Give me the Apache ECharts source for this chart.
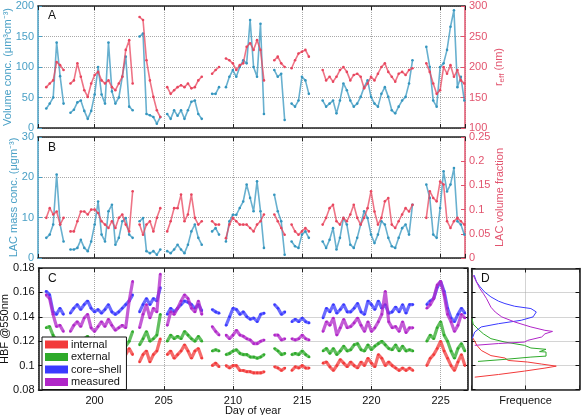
<!DOCTYPE html>
<html>
<head>
<meta charset="utf-8">
<script src="https://cdn.jsdelivr.net/npm/echarts@6/dist/echarts.min.js"></script>
<style>html,body{margin:0;padding:0;background:#fff}#c{width:583px;height:415px}</style>
</head>
<body>
<div id="c"></div>
<script>
// ---- data ----
const days = [196.5,196.75,197,197.25,197.5,197.75,198,198.25,198.5,198.75,
199,199.25,199.5,199.75,200,200.25,200.5,200.75,201,201.25,
201.5,201.75,202,202.25,202.5,202.75,203,203.25,203.5,203.75,
204,204.25,204.5,204.75,205,205.25,205.5,205.75,206,206.25,
206.5,206.75,207,207.25,207.5,207.75,208,208.25,208.5,208.75,
209,209.25,209.5,209.75,210,210.25,210.5,210.75,211,211.25,
211.5,211.75,212,212.25,212.5,212.75,213,213.25,213.5,213.75,
214,214.25,214.5,214.75,215,215.25,215.5,215.75,216,216.25,
216.5,216.75,217,217.25,217.5,217.75,218,218.25,218.5,218.75,
219,219.25,219.5,219.75,220,220.25,220.5,220.75,221,221.25,
221.5,221.75,222,222.25,222.5,222.75,223,223.25,223.5,223.75,
224,224.25,224.5,224.75,225,225.25,225.5,225.75,226,226.25,
226.5,226.75];
const n = null;
// Panel A
const volumeConc = [32,40,50,140,85,40,n,25,30,42,
45,28,15,28,55,100,55,40,140,60,
40,50,84,117,35,29,n,150,155,23,
21,18,7,18,n,23,15,29,20,29,
15,29,43,45,23,15,n,n,56,56,
67,n,67,84,95,84,100,111,106,177,
100,84,171,23,n,n,95,84,89,13,
n,40,35,45,84,78,56,n,n,n,
45,35,40,45,24,45,73,62,45,35,
40,51,67,78,51,40,35,56,67,51,
29,24,35,45,51,73,111,n,n,n,
133,100,45,35,100,106,128,166,193,67,
84,45];
const rEff = [167,173,178,208,203,195,n,173,178,206,
184,162,151,173,187,192,178,173,178,167,
162,173,184,228,244,173,n,282,277,211,
178,151,129,118,n,167,156,162,167,170,
167,173,165,167,178,184,n,n,189,195,
200,n,214,211,206,195,203,206,233,239,
228,244,228,178,n,n,211,217,206,200,
n,198,211,222,225,228,217,n,n,n,
195,178,184,176,184,195,200,192,178,187,
189,184,165,173,184,178,189,200,206,192,
184,176,189,192,187,195,198,n,n,n,
206,192,173,156,162,200,189,203,184,195,
178,173];
// Panel B
const lacMass = [5,5.8,8.3,20.7,8.3,4.1,n,2.1,2.1,2.5,
4.5,2.5,1.7,4.1,8.3,14,5.8,4.1,11.6,13.2,
3.3,5,9.1,9.9,5.8,5,n,9.1,9.9,1.7,
1.2,1.7,0.8,2.1,n,1.7,1.2,2.1,3.3,2.1,
1.2,3.3,6.6,8.3,5,3.3,n,n,6.6,7.4,
5.8,n,4.1,9.1,10.7,10.7,12.4,14,18.2,14.9,
11.6,19,11.6,2.5,n,n,15.7,11.6,9.1,0.8,
n,4.1,2.9,2.5,5.8,6.6,5,n,n,n,
4.1,2.5,4.5,7.4,2.1,5,9.9,8.3,3.3,2.5,
5,8.3,11.6,9.9,5.8,3.7,5.8,9.1,8.3,5,
2.9,2.5,5,7.4,8.3,5.8,13.2,n,n,n,
18.2,14.9,5.8,5,12.4,21.5,16.5,18.2,22.3,9.1,
8.3,5.8];
const lacFraction = [0.083,0.103,0.09,0.096,0.069,0.083,n,0.055,0.055,0.076,
0.096,0.096,0.09,0.1,0.1,0.093,0.076,0.069,0.062,0.076,
0.062,0.083,0.09,0.069,0.055,0.138,n,0.069,0.048,0.069,
0.076,0.055,0.083,0.103,n,0.055,0.076,0.103,0.103,0.131,
0.076,0.09,0.131,0.083,0.069,0.076,n,n,0.076,0.069,
0.069,n,0.041,0.069,0.083,0.076,0.069,0.069,0.069,0.062,
0.055,0.069,0.076,0.09,n,n,0.09,0.076,0.062,0.048,
n,0.069,0.055,0.048,0.055,0.062,0.055,n,n,n,
0.069,0.083,0.103,0.11,0.076,0.069,0.083,0.076,0.09,0.11,
0.083,0.069,0.083,0.103,0.138,0.096,0.069,0.083,0.117,0.124,
0.069,0.062,0.076,0.09,0.103,0.096,0.11,n,n,n,
0.083,0.138,0.124,0.117,0.158,0.152,0.076,0.062,0.076,0.083,
0.076,0.069];
// Panel C (HBF @550nm)
const hbfInternal = [0.118,0.115,0.112,0.11,0.108,0.106,n,0.105,0.106,0.108,
0.106,0.109,0.11,0.106,0.105,0.107,0.109,0.107,0.109,0.105,
0.104,0.103,0.106,0.109,0.114,0.109,n,0.103,0.109,0.112,
0.103,0.109,0.112,0.122,n,0.109,0.112,0.106,0.109,0.112,
0.117,0.112,0.106,0.112,0.114,0.106,n,n,0.1,0.102,
0.099,n,0.1,0.098,0.1,0.1,0.096,0.096,0.095,0.095,
0.094,0.094,0.094,0.095,n,n,0.099,0.098,0.096,0.098,
n,0.096,0.099,0.098,0.1,0.098,0.098,n,n,n,
0.102,0.103,0.099,0.096,0.1,0.105,0.102,0.099,0.103,0.1,
0.098,0.103,0.1,0.106,0.102,0.099,0.109,0.106,0.1,0.103,
0.1,0.098,0.096,0.098,0.096,0.098,0.096,n,n,n,
0.1,0.106,0.109,0.114,0.12,0.112,0.106,0.1,0.096,0.103,
0.109,0.1];
const hbfExternal = [0.131,0.132,0.125,0.12,0.118,0.116,n,0.117,0.118,0.12,
0.118,0.122,0.124,0.118,0.117,0.12,0.122,0.12,0.122,0.118,
0.117,0.116,0.113,0.116,0.12,0.128,n,0.117,0.122,0.128,
0.12,0.122,0.125,0.142,n,0.12,0.125,0.122,0.124,0.122,
0.128,0.125,0.122,0.12,0.124,0.12,n,n,0.112,0.113,
0.112,n,0.109,0.11,0.112,0.113,0.11,0.109,0.109,0.107,
0.107,0.106,0.107,0.109,n,n,0.114,0.112,0.109,0.11,
n,0.109,0.11,0.109,0.112,0.109,0.107,n,n,n,
0.112,0.114,0.11,0.114,0.109,0.112,0.116,0.112,0.113,0.117,
0.118,0.113,0.112,0.117,0.113,0.116,0.118,0.12,0.117,0.114,
0.113,0.117,0.112,0.116,0.112,0.113,0.112,n,n,n,
0.12,0.125,0.122,0.131,0.136,0.125,0.12,0.112,0.106,0.114,
0.118,0.112];
const hbfCoreShell = [0.161,0.158,0.144,0.142,0.147,0.142,n,0.143,0.147,0.15,
0.146,0.15,0.153,0.147,0.144,0.146,0.143,0.146,0.15,0.144,
0.142,0.144,0.147,0.15,0.153,0.158,n,0.144,0.15,0.155,
0.15,0.155,0.153,0.164,n,0.142,0.147,0.144,0.147,0.15,
0.153,0.152,0.15,0.147,0.15,0.145,n,n,0.146,0.144,
0.143,n,0.133,0.14,0.147,0.146,0.142,0.144,0.14,0.138,
0.139,0.136,0.142,0.143,n,n,0.15,0.147,0.142,0.144,
n,0.136,0.138,0.136,0.139,0.136,0.135,n,n,n,
0.139,0.147,0.144,0.15,0.143,0.146,0.15,0.144,0.144,0.147,
0.151,0.144,0.142,0.153,0.15,0.146,0.153,0.147,0.15,0.143,
0.144,0.148,0.144,0.15,0.143,0.15,0.15,n,n,n,
0.15,0.153,0.155,0.164,0.169,0.161,0.147,0.139,0.136,0.142,
0.147,0.143];
const hbfMeasured = [0.158,0.155,0.142,0.132,0.133,0.128,n,0.128,0.133,0.136,
0.132,0.139,0.142,0.131,0.128,0.132,0.136,0.132,0.138,0.133,
0.129,0.131,0.133,0.131,0.153,0.169,n,0.131,0.142,0.15,
0.139,0.147,0.144,0.175,n,0.133,0.144,0.142,0.147,0.153,
0.158,0.155,0.147,0.144,0.153,0.142,n,n,0.132,0.128,
0.125,n,0.125,0.122,0.125,0.129,0.125,0.124,0.122,0.121,
0.118,0.118,0.12,0.121,n,n,0.125,0.125,0.121,0.122,
n,0.122,0.121,0.122,0.125,0.122,0.121,n,n,n,
0.128,0.136,0.133,0.139,0.125,0.131,0.138,0.131,0.132,0.135,
0.139,0.133,0.128,0.136,0.128,0.131,0.136,0.142,0.161,0.136,
0.131,0.132,0.128,0.136,0.127,0.131,0.131,n,n,n,
0.147,0.15,0.155,0.166,0.169,0.158,0.142,0.136,0.128,0.133,
0.142,0.139];
// Panel D: frequency distributions, [frequency, HBF]
const freqInternal = [[0.03,0.0902],[0.25,0.0924],[0.49,0.0952],[0.68,0.0977],[0.785,0.0993],[0.65,0.101],[0.52,0.1027],[0.34,0.104],[0.31,0.106],[0.18,0.108],[0.09,0.1123],[0.05,0.1165],[0.025,0.1206],[0.01,0.123]];
const freqExternal = [[0.06,0.1032],[0.31,0.1049],[0.55,0.1068],[0.69,0.1076],[0.69,0.111],[0.63,0.1113],[0.69,0.1132],[0.55,0.1143],[0.49,0.1165],[0.31,0.1192],[0.18,0.122],[0.11,0.126],[0.06,0.13],[0.015,0.134],[0.006,0.1386]];
const freqCoreShell = [[0.006,0.122],[0.03,0.1275],[0.09,0.1317],[0.25,0.1344],[0.46,0.1372],[0.57,0.14],[0.6,0.1441],[0.55,0.1469],[0.4,0.1488],[0.31,0.151],[0.25,0.153],[0.18,0.1565],[0.12,0.1607],[0.08,0.1648],[0.046,0.169],[0.025,0.1745]];
const freqMeasured = [[0.03,0.1165],[0.25,0.118],[0.49,0.1192],[0.52,0.1206],[0.65,0.1234],[0.68,0.126],[0.75,0.128],[0.68,0.1289],[0.55,0.1317],[0.4,0.1358],[0.28,0.14],[0.22,0.144],[0.18,0.148],[0.14,0.155],[0.11,0.1593],[0.077,0.1634],[0.046,0.169],[0.015,0.1745]];
// tick / label texts
const seriesNames = ['internal','external','core\u2212shell','measured'];

// ---- styling ----
const FONT = 'Liberation Sans, Arial, Helvetica, sans-serif';
const BLUE_T = '#4aa0c6', RED_T = '#e2546e';
const BLUE_S = '#3596bf', RED_S = '#e8465e';
const C_INT = '#f23a3a', C_EXT = '#2eaa2a', C_CS = '#3a3aff', C_MEAS = '#b026c8';
const GRIDC = '#a8a8a8';

const pts = v => days.map((d, i) => [d, v[i] == null ? '-' : v[i]]);

function xAx(grid, min, max, opts) {
  return Object.assign({
    type: 'value', gridIndex: grid, min: min, max: max, position: 'bottom',
    axisLine: {show: true, onZero: false, lineStyle: {color: '#222', width: 1.5}},
    axisTick: {show: true, inside: true, length: 4, lineStyle: {color: '#222'}},
    axisLabel: {show: false, showMinLabel: false, showMaxLabel: false, color: '#111', fontSize: 11, fontFamily: FONT, margin: 4},
    splitLine: {show: false}, nameMoveOverlap: false
  }, opts || {});
}
function yAx(grid, min, max, interval, color, opts) {
  return Object.assign({
    type: 'value', gridIndex: grid, min: min, max: max, interval: interval, position: 'left',
    axisLine: {show: true, onZero: false, lineStyle: {color: color, width: 1.5}},
    axisTick: {show: true, inside: true, length: 4, lineStyle: {color: color}},
    axisLabel: {show: true, color: color, fontSize: 11, fontFamily: FONT, margin: 4, hideOverlap: false},
    splitLine: {show: false},
    nameLocation: 'middle', nameMoveOverlap: false,
    nameTextStyle: {color: color, fontSize: 11, fontFamily: FONT}
  }, opts || {});
}
const dotted = {show: true, lineStyle: {type: 'dotted', color: GRIDC, width: 1}};

const xA = [195.9, 226.8], xC = [195.95, 226.94];

function scat(name, x, y, data, color, z, w) {
  return {
    name: name, type: 'line', xAxisIndex: x, yAxisIndex: y, data: pts(data),
    connectNulls: false, showSymbol: true, symbol: 'circle', symbolSize: 2.6,
    lineStyle: {color: color, width: w, opacity: 0.75}, itemStyle: {color: color},
    silent: true, z: z || 2, animation: false
  };
}
function hist(name, data, color) {
  return {
    name: name, type: 'line', xAxisIndex: 6, yAxisIndex: 6, data: data,
    showSymbol: false, lineStyle: {color: color, width: 1}, itemStyle: {color: color}, silent: true, z: 3
  };
}
const G = {containLabel: false, outerBoundsMode: 'none'};

const option = {
  animation: false,
  textStyle: {fontFamily: FONT},
  grid: [
    Object.assign({left: 38, top: 6, right: 118, height: 122}, G),
    Object.assign({left: 38, top: 137, right: 118, height: 121}, G),
    Object.assign({left: 38.5, top: 268, right: 115.5, height: 122}, G),
    Object.assign({left: 471.5, top: 268.5, width: 108, height: 121}, G)
  ],
  title: [
    {text: 'A', left: 48, top: 10, padding: 0, textStyle: {fontSize: 12, fontWeight: 'normal', color: '#111'}},
    {text: 'B', left: 48, top: 142, padding: 0, textStyle: {fontSize: 12, fontWeight: 'normal', color: '#111'}},
    {text: 'C', left: 48, top: 273, padding: 0, textStyle: {fontSize: 12, fontWeight: 'normal', color: '#111'}},
    {text: 'D', left: 481, top: 273, padding: 0, textStyle: {fontSize: 12, fontWeight: 'normal', color: '#111'}}
  ],
  legend: {
    data: seriesNames.map(s => ({name: s, icon: 'rect'})),
    orient: 'vertical', left: 42, top: 337,
    itemWidth: 23, itemHeight: 8, itemGap: 1.5,
    padding: [2, 5, 2, 3],
    borderColor: '#111', borderWidth: 1, backgroundColor: '#fff',
    textStyle: {fontSize: 11, lineHeight: 10, color: '#111', fontFamily: FONT, padding: [0, 0, 0, -2]},
    selectedMode: false, z: 10
  },
  xAxis: [
    xAx(0, xA[0], xA[1], {splitLine: dotted}),
    xAx(0, xA[0], xA[1], {position: 'top'}),
    xAx(1, xA[0], xA[1], {splitLine: dotted}),
    xAx(1, xA[0], xA[1], {position: 'top'}),
    xAx(2, xC[0], xC[1], {splitLine: dotted, name: 'Day of year', nameLocation: 'middle', nameGap: 15,
      nameTextStyle: {color: '#111', fontSize: 11, fontFamily: FONT},
      axisLabel: {show: true, showMinLabel: false, showMaxLabel: false, color: '#111', fontSize: 11, fontFamily: FONT, margin: 5}}),
    xAx(2, xC[0], xC[1], {position: 'top'}),
    xAx(3, 0, 1, {interval: 0.5, splitLine: dotted, name: 'Frequence', nameLocation: 'middle', nameGap: 6,
      nameTextStyle: {color: '#111', fontSize: 11, fontFamily: FONT}}),
    xAx(3, 0, 1, {interval: 0.5, position: 'top'})
  ],
  yAxis: [
    yAx(0, 0, 200, 50, BLUE_T, {name: 'Volume conc. (\u03bcm\u00b3cm\u207b\u00b3)', nameGap: 25, splitLine: dotted}),
    yAx(0, 100, 300, 50, RED_T, {position: 'right', name: '{r|r}{s|eff}{r| (nm)}', nameGap: 27,
      nameTextStyle: {color: RED_T, fontSize: 11, fontFamily: FONT, rich: {
        r: {fontSize: 11, color: RED_T, fontFamily: FONT},
        s: {fontSize: 8, color: RED_T, fontFamily: FONT, verticalAlign: 'bottom', padding: [6, 0, 0, 0]}}}}),
    yAx(1, 0, 30, 10, BLUE_T, {name: 'LAC mass conc. (\u03bcgm\u207b\u00b3)', nameGap: 19, splitLine: dotted}),
    yAx(1, 0, 0.25, 0.05, RED_T, {position: 'right', name: 'LAC volume fraction', nameGap: 29}),
    yAx(2, 0.08, 0.18, 0.02, '#111', {name: 'HBF @550nm', nameGap: 28, splitLine: dotted}),
    yAx(2, 0.08, 0.18, 0.02, '#111', {position: 'right', axisLabel: {show: false}}),
    yAx(3, 0.08, 0.18, 0.02, '#111', {axisLabel: {show: false}, splitLine: dotted}),
    yAx(3, 0.08, 0.18, 0.02, '#111', {position: 'right', axisLabel: {show: false}})
  ],
  series: [
    scat('Volume conc.', 0, 0, volumeConc, BLUE_S, 2, 1.6),
    scat('r_eff', 0, 1, rEff, RED_S, 3, 1.6),
    scat('LAC mass conc.', 2, 2, lacMass, BLUE_S, 2, 1.6),
    scat('LAC volume fraction', 2, 3, lacFraction, RED_S, 3, 1.6),
    scat(seriesNames[2], 4, 4, hbfCoreShell, C_CS, 2, 3.2),
    scat(seriesNames[3], 4, 4, hbfMeasured, C_MEAS, 3, 3.2),
    scat(seriesNames[1], 4, 4, hbfExternal, C_EXT, 2, 3.2),
    scat(seriesNames[0], 4, 4, hbfInternal, C_INT, 3, 3.2),
    hist('D internal', freqInternal, C_INT),
    hist('D external', freqExternal, C_EXT),
    hist('D core-shell', freqCoreShell, C_CS),
    hist('D measured', freqMeasured, C_MEAS)
  ]
};
const chart = echarts.init(document.getElementById('c'), null, {renderer: 'canvas'});
chart.setOption(option);
</script>
</body>
</html>
